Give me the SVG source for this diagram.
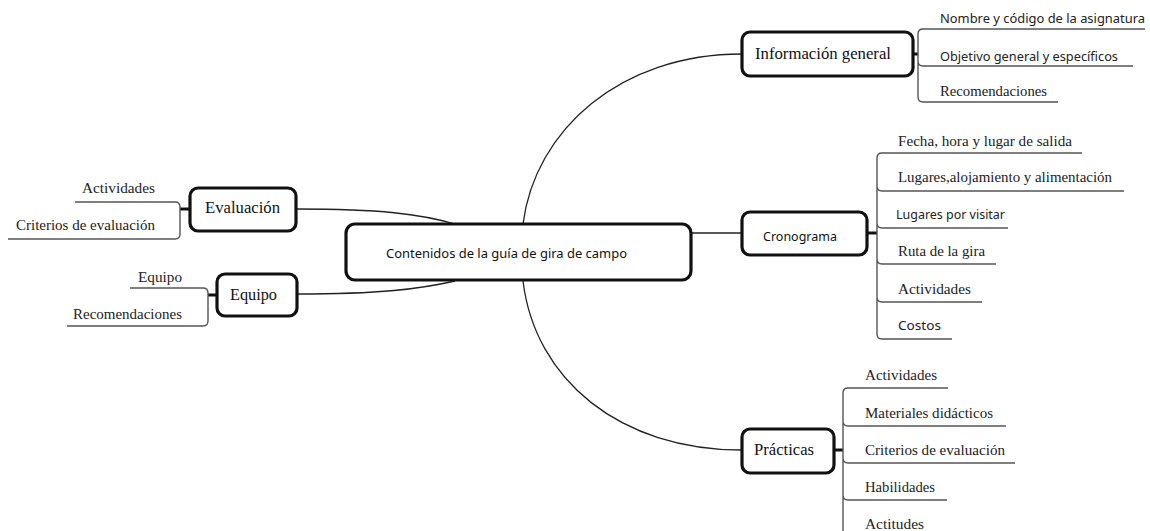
<svg xmlns="http://www.w3.org/2000/svg" width="1150" height="531" viewBox="0 0 1150 531">
<style>
.box{fill:#fff;stroke:#111;stroke-width:3.2}
.conn{fill:none;stroke:#222;stroke-width:1.3}
.stub{fill:none;stroke:#111;stroke-width:3}
.br{fill:none;stroke:#555;stroke-width:1.4}
.sans{font-family:"Noto Sans","Open Sans","DejaVu Sans",sans-serif;font-size:12px;fill:#222}
.serif{font-family:"Liberation Serif","DejaVu Serif",serif;font-size:14.5px;fill:#222}
.bs{font-family:"Liberation Serif","DejaVu Serif",serif;font-size:16px;fill:#111}
.bsans{font-family:"Noto Sans","Open Sans","DejaVu Sans",sans-serif;font-size:13px;fill:#111}
</style>
<rect width="1150" height="531" fill="#fff"/>
<g id="connectors">
<path class="conn" d="M523,224 C535,130 620,54 742,54"/>
<path class="conn" d="M523,281 C535,380 620,450 742,450"/>
<path class="conn" d="M691,233 H742"/>
<path class="conn" d="M297,209 C380,209 420,214 455,224"/>
<path class="conn" d="M297,294 C380,294 420,289 455,281"/>
</g>
<g id="center">
<rect class="box" x="346" y="224" width="345" height="56" rx="9"/>
<text class="bsans" x="386" y="258" textLength="241" lengthAdjust="spacingAndGlyphs">Contenidos de la guía de gira de campo</text>
</g>
<g id="info-general">
<rect class="box" x="742" y="32" width="171" height="44" rx="8"/>
<text class="bs" x="755" y="59" textLength="136" lengthAdjust="spacingAndGlyphs">Información general</text>
<path class="stub" d="M913,54 H918"/>
<path class="br" d="M918,34 Q918,29 923,29 H1145 M918,34 V97 M918,61 Q918,66 923,66 H1133 M918,97 Q918,102 923,102 H1058"/>
<text class="sans" x="940" y="23" textLength="205" lengthAdjust="spacingAndGlyphs">Nombre y código de la asignatura</text>
<text class="sans" x="940" y="61" textLength="178" lengthAdjust="spacingAndGlyphs">Objetivo general y específicos</text>
<text class="serif" x="940" y="96" textLength="107" lengthAdjust="spacingAndGlyphs">Recomendaciones</text>
</g>
<g id="cronograma">
<rect class="box" x="742" y="212" width="125" height="43" rx="8"/>
<text class="bsans" x="763" y="241" textLength="74" lengthAdjust="spacingAndGlyphs">Cronograma</text>
<path class="stub" d="M867,233 H877"/>
<path class="br" d="M877,158 Q877,153 882,153 H1082 M877,158 V334 M877,186 Q877,191 882,191 H1124 M877,223 Q877,228 882,228 H1008 M877,259 Q877,264 882,264 H996 M877,297 Q877,302 882,302 H982 M877,334 Q877,339 882,339 H952"/>
<text class="serif" x="898" y="146" textLength="174" lengthAdjust="spacingAndGlyphs">Fecha, hora y lugar de salida</text>
<text class="serif" x="898" y="182" textLength="214" lengthAdjust="spacingAndGlyphs">Lugares,alojamiento y alimentación</text>
<text class="sans" x="896" y="219" textLength="109" lengthAdjust="spacingAndGlyphs">Lugares por visitar</text>
<text class="serif" x="898" y="256" textLength="87" lengthAdjust="spacingAndGlyphs">Ruta de la gira</text>
<text class="serif" x="898" y="294" textLength="73" lengthAdjust="spacingAndGlyphs">Actividades</text>
<text class="sans" x="898" y="330" textLength="43" lengthAdjust="spacingAndGlyphs">Costos</text>
</g>
<g id="practicas">
<rect class="box" x="742" y="429" width="92" height="44" rx="8"/>
<text class="bs" x="754" y="455" textLength="60" lengthAdjust="spacingAndGlyphs">Prácticas</text>
<path class="stub" d="M834,450 H843"/>
<path class="br" d="M843,393 Q843,388 848,388 H948 M843,393 V540 M843,421 Q843,426 848,426 H1006 M843,458 Q843,463 848,463 H1015 M843,495 Q843,500 848,500 H947"/>
<text class="serif" x="865" y="380" textLength="72" lengthAdjust="spacingAndGlyphs">Actividades</text>
<text class="serif" x="865" y="418" textLength="128" lengthAdjust="spacingAndGlyphs">Materiales didácticos</text>
<text class="serif" x="865" y="455" textLength="140" lengthAdjust="spacingAndGlyphs">Criterios de evaluación</text>
<text class="serif" x="865" y="492" textLength="70" lengthAdjust="spacingAndGlyphs">Habilidades</text>
<text class="serif" x="865" y="529" textLength="59" lengthAdjust="spacingAndGlyphs">Actitudes</text>
</g>
<g id="evaluacion">
<rect class="box" x="190" y="188" width="106" height="43" rx="8"/>
<text class="bs" x="205" y="213" textLength="75" lengthAdjust="spacingAndGlyphs">Evaluación</text>
<path class="stub" d="M190,209 H180"/>
<path class="br" d="M180,207 Q180,202 175,202 H75 M180,207 V234 Q180,239 175,239 H8"/>
<text class="serif" x="82" y="193" textLength="73" lengthAdjust="spacingAndGlyphs">Actividades</text>
<text class="serif" x="16" y="230" textLength="139" lengthAdjust="spacingAndGlyphs">Criterios de evaluación</text>
</g>
<g id="equipo">
<rect class="box" x="217" y="274" width="80" height="42" rx="8"/>
<text class="bs" x="230" y="300" textLength="47" lengthAdjust="spacingAndGlyphs">Equipo</text>
<path class="stub" d="M217,295 H208"/>
<path class="br" d="M208,293 Q208,288 203,288 H130 M208,293 V321 Q208,326 203,326 H67"/>
<text class="serif" x="138" y="282" textLength="44" lengthAdjust="spacingAndGlyphs">Equipo</text>
<text class="serif" x="73" y="319" textLength="109" lengthAdjust="spacingAndGlyphs">Recomendaciones</text>
</g>
</svg>
